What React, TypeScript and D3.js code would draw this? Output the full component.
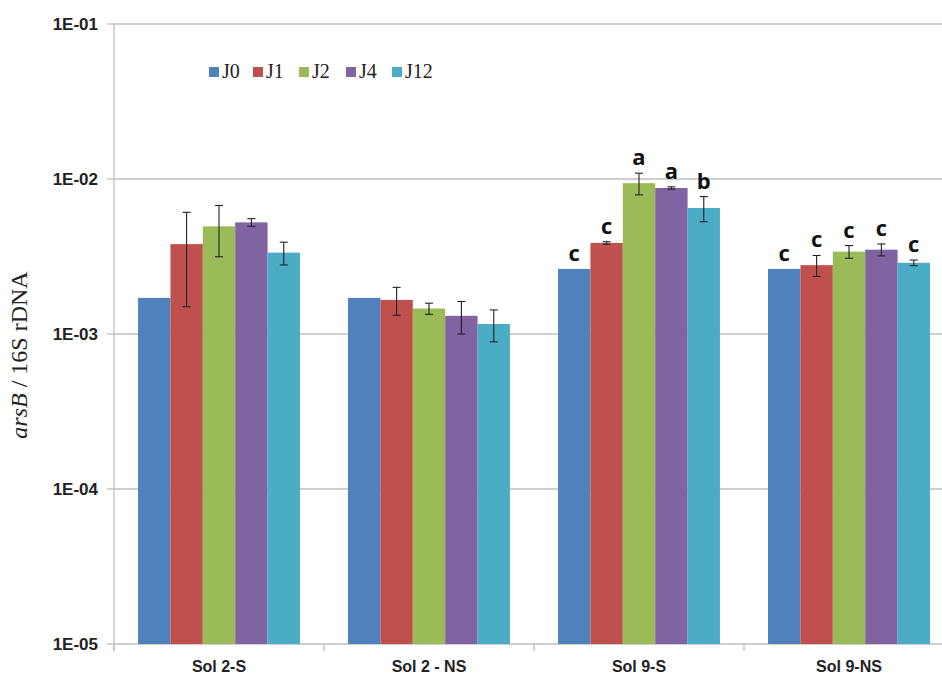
import React from "react";
import * as d3 from "d3";

const categories = ["Sol 2-S", "Sol 2 - NS", "Sol 9-S", "Sol 9-NS"];
const seriesNames = ["J0", "J1", "J2", "J4", "J12"];
const seriesColors = ["#4F81BD", "#C0504D", "#9BBB59", "#8064A2", "#4BACC6"];

// values per series (one value per category)
const J0 = [1.71e-3, 1.71e-3, 2.63e-3, 2.63e-3];
const J1 = [3.8e-3, 1.66e-3, 3.87e-3, 2.78e-3];
const J2 = [4.95e-3, 1.46e-3, 9.4e-3, 3.4e-3];
const J4 = [5.25e-3, 1.31e-3, 8.75e-3, 3.5e-3];
const J12 = [3.35e-3, 1.16e-3, 6.5e-3, 2.88e-3];

// error (standard deviation) per series
const J0err = [0, 0, 0, 0];
const J1err = [2.3e-3, 0.34e-3, 0.07e-3, 0.43e-3];
const J2err = [1.8e-3, 0.12e-3, 1.5e-3, 0.32e-3];
const J4err = [0.3e-3, 0.31e-3, 0.15e-3, 0.31e-3];
const J12err = [0.56e-3, 0.27e-3, 1.2e-3, 0.12e-3];

// significance letters
const letters = [
  ["", "", "", "", ""],
  ["", "", "", "", ""],
  ["c", "c", "a", "a", "b"],
  ["c", "c", "c", "c", "c"],
];

const yTicks = [1e-5, 1e-4, 1e-3, 1e-2, 1e-1];
const yTickLabels = ["1E-05", "1E-04", "1E-03", "1E-02", "1E-01"];

const values = [J0, J1, J2, J4, J12];
const errors = [J0err, J1err, J2err, J4err, J12err];

const W = 942;
const H = 675;
const left = 114;
const right = 954;
const top = 24;
const bottom = 644;

export default function App() {
  const y = d3.scaleLog().domain([1e-5, 1e-1]).range([bottom, top]);
  const x0 = d3.scaleBand<string>().domain(categories).range([left, right]).paddingInner(0.229).paddingOuter(0.1145);
  const x1 = d3.scaleBand<string>().domain(seriesNames).range([0, x0.bandwidth()]);
  const grid = "#BFBFBF";

  return (
    <svg width={W} height={H} style={{ position: "absolute", left: 0, top: 0, background: "#fff" }}>
      {/* gridlines */}
      {yTicks.map((t, i) => (
        <g key={"g" + i}>
          <line x1={left} x2={W} y1={y(t)} y2={y(t)} stroke={grid} strokeWidth={1.3} />
          <line x1={left - 7} x2={left} y1={y(t)} y2={y(t)} stroke={grid} strokeWidth={1.3} />
          <text
            x={98}
            y={y(t)}
            dy="0.36em"
            textAnchor="end"
            fontFamily="Liberation Sans, Arial, sans-serif"
            fontWeight="bold"
            fontSize={17}
            fill="#222"
          >
            {yTickLabels[i]}
          </text>
        </g>
      ))}
      {/* y axis */}
      <line x1={left} x2={left} y1={top} y2={bottom + 7} stroke={grid} strokeWidth={1.3} />
      {/* category ticks */}
      {categories.map((c, i) => {
        const step = (right - left) / categories.length;
        return (
          <line key={"t" + i} x1={left + step * i} x2={left + step * i} y1={bottom} y2={bottom + 7} stroke={grid} strokeWidth={1.3} />
        );
      })}
      {/* bars */}
      {categories.map((c, ci) => (
        <g key={c} transform={`translate(${x0(c)},0)`}>
          {seriesNames.map((s, si) => {
            const v = values[si][ci];
            const e = errors[si][ci];
            const bx = x1(s)!;
            const bw = x1.bandwidth();
            const cx = bx + bw / 2;
            const topY = e > 0 ? y(v + e) : y(v);
            return (
              <g key={s}>
                <rect x={bx} y={y(v)} width={bw} height={bottom - y(v)} fill={seriesColors[si]} />
                {e > 0 && (
                  <g stroke="#222" strokeWidth={1.1}>
                    <line x1={cx} x2={cx} y1={y(v + e)} y2={y(v - e)} />
                    <line x1={cx - 4} x2={cx + 4} y1={y(v + e)} y2={y(v + e)} />
                    <line x1={cx - 4} x2={cx + 4} y1={y(v - e)} y2={y(v - e)} />
                  </g>
                )}
                {letters[ci][si] && (
                  <text
                    x={cx}
                    y={topY - 8}
                    textAnchor="middle"
                    fontFamily="Open Sans, Liberation Sans, sans-serif"
                    fontWeight="bold"
                    fontSize={22}
                    fill="#111"
                  >
                    {letters[ci][si]}
                  </text>
                )}
              </g>
            );
          })}
        </g>
      ))}
      {/* x labels */}
      {categories.map((c) => (
        <text
          key={"l" + c}
          x={x0(c)! + x0.bandwidth() / 2}
          y={672}
          textAnchor="middle"
          fontFamily="Liberation Sans, Arial, sans-serif"
          fontWeight="bold"
          fontSize={16}
          fill="#222"
        >
          {c}
        </text>
      ))}
      {/* legend */}
      {seriesNames.map((s, i) => {
        const lx = [209, 253, 299, 346, 392][i];
        return (
          <g key={"lg" + s}>
            <rect x={lx} y={67} width={10} height={10} fill={seriesColors[i]} />
            <text x={lx + 13} y={78} fontFamily="Liberation Serif, serif" fontSize={20} fill="#222">
              {s}
            </text>
          </g>
        );
      })}
      {/* y axis title */}
      <text
        transform="translate(27,355) rotate(-90)"
        textAnchor="middle"
        fontFamily="Liberation Serif, serif"
        fontSize={24}
        fill="#222"
      >
        <tspan fontStyle="italic">arsB</tspan>
        <tspan> / 16S rDNA</tspan>
      </text>
    </svg>
  );
}
